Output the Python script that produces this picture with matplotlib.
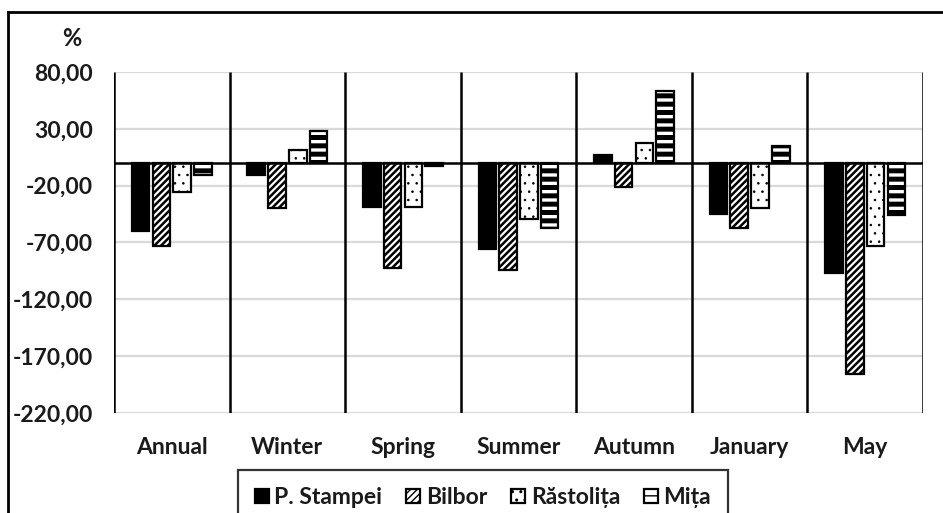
import numpy as np
import matplotlib
matplotlib.use("Agg")
import matplotlib.pyplot as plt
from matplotlib.lines import Line2D

plt.rcParams['font.family'] = ['Lato', 'DejaVu Sans']
plt.rcParams['font.weight'] = 'bold'

# data
categories = ['Annual', 'Winter', 'Spring', 'Summer', 'Autumn', 'January', 'May']
stations = ['P. Stampei', 'Bilbor', 'Răstolița', 'Mița']
p_stampei = [-60.0, -10.5, -39.0, -75.5, 7.0, -45.0, -97.0]
bilbor = [-73.0, -40.0, -92.5, -94.5, -21.0, -57.0, -186.0]
rastolita = [-25.5, 11.5, -39.0, -49.0, 17.5, -40.0, -73.0]
mita = [-11.0, 28.5, -2.5, -57.0, 63.5, 15.0, -46.0]
yticks = [80, 30, -20, -70, -120, -170, -220]

series = [p_stampei, bilbor, rastolita, mita]
styles = [
    dict(color='black', edgecolor='black', hatch=None, hlw=1.0),
    dict(color='white', edgecolor='black', hatch='/////', hlw=1.8),
    dict(color='white', edgecolor='black', hatch='..', hlw=0.6),
    dict(color='white', edgecolor='black', hatch='--', hlw=3.6),
]

fig = plt.figure(figsize=(9.43, 5.13), dpi=100)
ax = fig.add_axes([114 / 943, 1 - 413 / 513, (923 - 114) / 943, (413 - 72) / 513])

x = np.arange(len(categories))
pitch = 0.18
width = 0.152
handles = []
for i, (vals, st) in enumerate(zip(series, styles)):
    with plt.rc_context({'hatch.linewidth': st['hlw']}):
        bars = ax.bar(x + (i - 1.5) * pitch, vals, width, color=st['color'],
                      edgecolor=st['edgecolor'], hatch=st['hatch'],
                      linewidth=1.6, zorder=3, label=stations[i])
        for b in bars:
            if hasattr(b, 'set_hatch_linewidth'):
                b.set_hatch_linewidth(st['hlw'])
    handles.append(bars)

ax.set_ylim(-220, 80)
ax.set_xlim(-0.5, len(categories) - 0.5)
ax.set_yticks(yticks)
ax.set_yticklabels([f'{v:.2f}'.replace('.', ',') for v in yticks])
ax.yaxis.grid(True, color='#d9d9d9', linewidth=1.6, zorder=0)
ax.set_axisbelow(True)
ax.vlines(np.arange(len(categories) + 1) - 0.5, -220, 80, color='black',
          linewidth=1.8, zorder=4)
ax.axhline(0, color='black', linewidth=1.8, zorder=4)
for s in ax.spines.values():
    s.set_visible(False)
ax.set_xticks(x)
ax.set_xticklabels(categories)
ax.tick_params(axis='both', length=0, labelsize=16.5, colors='#1a1a1a')
ax.tick_params(axis='y', pad=15)
ax.tick_params(axis='x', pad=17)

fig.text(72 / 943, 1 - 38 / 513, '%', ha='center', va='center', fontsize=17,
         fontweight='bold', color='#1a1a1a')

leg = fig.legend(handles=handles, labels=stations, ncol=4, loc='upper center',
                 bbox_to_anchor=(483 / 943, 1 - 470 / 513), fontsize=16.5,
                 frameon=True, fancybox=False, edgecolor='black',
                 handlelength=0.6, handleheight=0.6, handletextpad=0.25,
                 columnspacing=1.05, borderpad=0.75, borderaxespad=0)
leg.get_frame().set_linewidth(1.6)
for t in leg.get_texts():
    t.set_color('#1a1a1a')

# outer chart border (left and top visible)
fig.add_artist(Line2D([8 / 943, 8 / 943], [0, 1 - 12 / 513], color='black',
                      linewidth=2, transform=fig.transFigure))
fig.add_artist(Line2D([8 / 943, 1], [1 - 12 / 513, 1 - 12 / 513], color='black',
                      linewidth=2, transform=fig.transFigure))

fig.savefig('out.png', dpi=100)
